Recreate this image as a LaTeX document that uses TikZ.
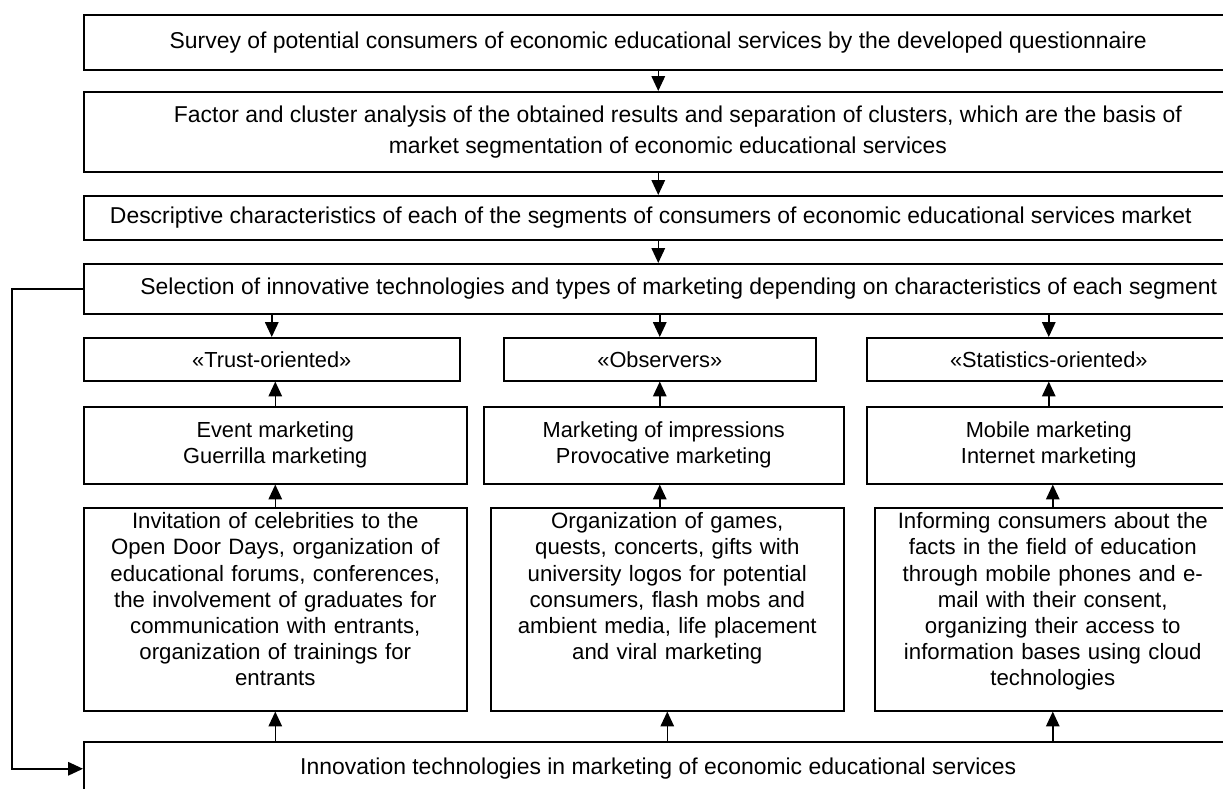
\documentclass[tikz,border=0pt]{standalone}
\usepackage{fontspec}
\setmainfont{Liberation Sans}
\usetikzlibrary{arrows.meta}
\def\pu{0.025cm}

\begin{document}
\begin{tikzpicture}[x=\pu,y=-\pu,>={Triangle[length=10.5pt,width=9.5pt]},
    box/.style={draw,line width=1.1pt,anchor=north west,align=center,inner sep=0pt,
                font=\fontsize{15.5}{18.6}\selectfont},
    wide/.style={box,minimum width=1149*\pu,font=\fontsize{16.3}{18.6}\selectfont},
    detail/.style={box,text height=21*\pu,text depth=182*\pu,font=\fontsize{15.8}{18.6}\selectfont},
    arr/.style={->,line width=1.1pt}]
\useasboundingbox (0,0) rectangle (1223,789);
\clip (0,0) rectangle (1223,789);

% main chain
\node[wide,minimum height=55*\pu] (survey) at (83,14)
    {Survey of potential consumers of economic educational services by the developed questionnaire};
\node[wide,minimum height=80*\pu] (factor) at (83,91)
    {\hspace*{0.98cm}Factor and cluster analysis of the obtained results and separation of clusters, which are the basis of\\[0.125cm]
     \hspace*{0.48cm}market segmentation of economic educational services};
\node[wide,minimum height=44*\pu] (descr) at (83,195)
    {\hspace*{-0.375cm}Descriptive characteristics of each of the segments of consumers of economic educational services market};
\node[wide,minimum height=50*\pu] (select) at (83,263)
    {\hspace*{1.025cm}Selection of innovative technologies and types of marketing depending on characteristics of each segment};

% segments
\node[box,minimum width=376*\pu,minimum height=43*\pu] (trust) at (83,337) {«Trust-oriented»};
\node[box,minimum width=312*\pu,minimum height=43*\pu] (obs) at (503,337) {«Observers»};
\node[box,minimum width=364*\pu,minimum height=43*\pu] (stat) at (866,337) {«Statistics-oriented»};

% types of marketing
\node[box,minimum width=383*\pu,minimum height=77*\pu] (event) at (83,406) {Event marketing\\Guerrilla marketing};
\node[box,minimum width=360*\pu,minimum height=77*\pu] (impr) at (483,406) {Marketing of impressions\\Provocative marketing};
\node[box,minimum width=364*\pu,minimum height=77*\pu] (mobile) at (866,406) {Mobile marketing\\Internet marketing};

% technologies
\node[detail,text width=383*\pu] (invite) at (83,507)
    {Invitation of celebrities to the\\Open Door Days, organization of\\educational forums, conferences,\\the involvement of graduates for\\communication with entrants,\\organization of trainings for\\entrants};
\node[detail,text width=353*\pu] (organize) at (490,507)
    {Organization of games,\\quests, concerts, gifts with\\university logos for potential\\consumers, flash mobs and\\ambient media, life placement\\and viral marketing};
\node[detail,text width=356*\pu] (inform) at (874,507)
    {Informing consumers about the\\facts in the field of education\\through mobile phones and e-\\mail with their consent,\\organizing their access to\\information bases using cloud\\technologies};

\node[wide,minimum height=54*\pu] (innov) at (83,741)
    {Innovation technologies in marketing of economic educational services};

\draw[arr] (survey.south) -- (survey.south |- factor.north);
\draw[arr] (factor.south) -- (factor.south |- descr.north);
\draw[arr] (descr.south) -- (descr.south |- select.north);
\draw[arr] (select.south -| trust.north) -- (trust.north);
\draw[arr] (select.south -| obs.north) -- (obs.north);
\draw[arr] (select.south -| stat.north) -- (stat.north);

\draw[arr] (event.north) -- (event.north |- trust.south);
\draw[arr] (impr.north -| obs.south) -- (obs.south);
\draw[arr] (mobile.north -| stat.south) -- (stat.south);

\draw[arr] (invite.north) -- (invite.north |- event.south);
\draw[arr] (organize.north -| obs.south) -- (impr.south -| obs.south);
\draw[arr] (inform.north) -- (inform.north |- mobile.south);

\draw[arr] (innov.north -| invite.south) -- (invite.south);
\draw[arr] (innov.north -| organize.south) -- (organize.south);
\draw[arr] (innov.north -| inform.south) -- (inform.south);

\draw[arr] (select.west) -- ++(-71,0) |- (innov.west);
\end{tikzpicture}
\end{document}
